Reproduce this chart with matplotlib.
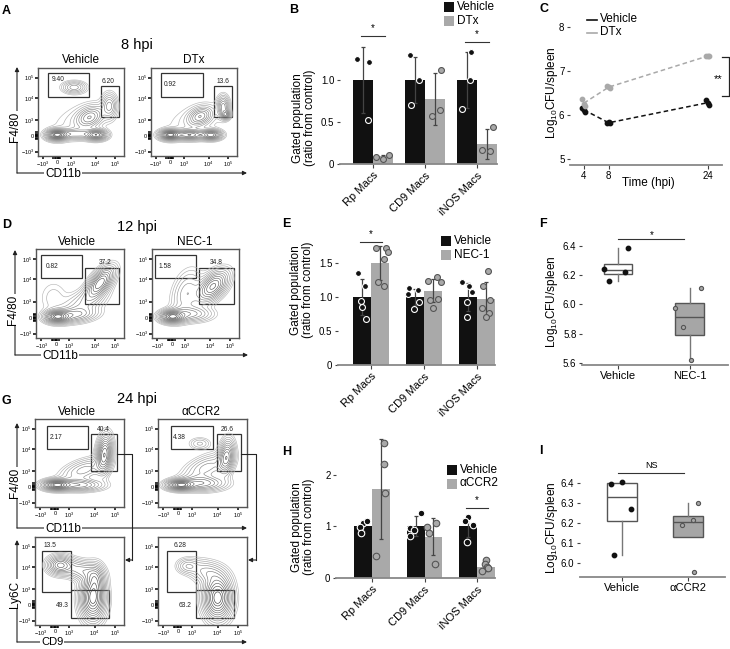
import numpy as np
import matplotlib
matplotlib.use("Agg")
import matplotlib.pyplot as plt
from matplotlib.patches import Rectangle

plt.rcParams["font.family"] = ["Liberation Sans", "DejaVu Sans"]
plt.rcParams["mathtext.fontset"] = "custom"
plt.rcParams["mathtext.rm"] = "Liberation Sans"
plt.rcParams["mathtext.it"] = "Liberation Sans:italic"
plt.rcParams["mathtext.default"] = "regular"

W, H = 730, 649
BLACK = "#111111"
GREY = "#a9a9a9"

# ---------------- bar chart data (ratio from control) ----------------
groups = ["Rp Macs", "CD9 Macs", "iNOS Macs"]

b_veh_mean = [1.0, 1.0, 1.0]
b_veh_sd = [0.39, 0.27, 0.33]
b_dtx_mean = [0.09, 0.77, 0.24]
b_dtx_sd = [0.02, 0.31, 0.18]
b_veh_pts = [[1.25, 1.21, 0.52], [1.30, 1.00, 0.70], [1.33, 1.00, 0.65]]
b_dtx_pts = [[0.08, 0.06, 0.11], [1.12, 0.57, 0.64], [0.44, 0.17, 0.15]]
b_veh_jit = [[-6, 6, 5], [-5, 4, -4], [4, 3, -5]]
b_dtx_jit = [[-7, 0, 6], [6, -3, 5], [6, -5, 3]]
b_sig = [(0, 1.52, "*"), (2, 1.45, "*")]

e_veh_mean = [1.0, 1.0, 1.0]
e_veh_sd = [0.26, 0.12, 0.20]
e_nec_mean = [1.50, 1.09, 0.97]
e_nec_sd = [0.25, 0.17, 0.25]
e_veh_pts = [[1.35, 1.16, 0.94, 0.85, 0.68],
             [1.13, 1.04, 1.10, 0.82, 0.93],
             [1.22, 1.16, 1.07, 0.93, 0.70]]
e_nec_pts = [[1.72, 1.72, 1.66, 1.56, 1.22, 1.16],
             [1.24, 1.30, 1.22, 0.96, 0.97, 0.84],
             [1.38, 1.16, 0.96, 0.84, 0.76, 0.71]]
e_veh_jit = [[-4, 3, -1, 0, 4], [-6, -7, 3, -1, 4], [-6, 1, 4, -1, -1]]
e_nec_jit = [[-4, 6, 8, 4, -2, 4], [-5, 4, 8, -3, 5, 0], [2, -3, 4, -4, 3, 0]]
e_sig = [(0, 1.81, "*")]

h_veh_mean = [1.0, 1.0, 1.0]
h_veh_sd = [0.10, 0.19, 0.20]
h_ccr_mean = [1.72, 0.80, 0.22]
h_ccr_sd = [0.96, 0.36, 0.08]
h_veh_pts = [[1.06, 1.10, 0.99, 0.87], [1.26, 0.97, 0.93, 0.82], [1.18, 1.10, 1.03, 0.70]]
h_ccr_pts = [[2.61, 2.20, 1.64, 0.43], [0.99, 1.06, 0.87, 0.27], [0.35, 0.27, 0.21, 0.14, 0.19]]
h_veh_jit = [[0, 4, -3, -2], [5, -6, -2, -6], [0, -3, 5, -1]]
h_ccr_jit = [[3, 3, 4, -5], [-6, 3, -4, 2], [0, -1, 1, -4, 2]]
h_sig = [(2, 1.35, "*")]

# ---------------- CFU time course (C) ----------------
c_time = [4, 8, 24]
c_veh_pts = [[6.16, 6.07, 6.12], [5.82, 5.82, 5.83], [6.34, 6.23, 6.27]]
c_dtx_pts = [[6.36, 6.20, 6.25], [6.66, 6.61, 6.63], [7.34, 7.35, 7.33]]
c_jit = [-0.25, 0.25, 0.0]

# ---------------- CFU box plots (F, I) ----------------
f_veh = [6.385, 6.243, 6.222, 6.161]
f_nec = [6.114, 5.977, 5.848, 5.623]
f_veh_jit = [0.14, -0.19, 0.10, -0.12]
f_nec_jit = [0.15, -0.21, -0.10, 0.01]

i_veh = [6.395, 6.405, 6.27, 6.04]
i_ccr = [6.30, 6.215, 6.19, 5.955]
i_veh_jit = [-0.17, 0.0, 0.14, -0.12]
i_ccr_jit = [0.15, 0.08, -0.09, 0.09]

# ---------------- flow cytometry plots ----------------
flow_ticklabels = ["$-10^3$", "0", "$10^3$", "$10^4$", "$10^5$"]
FX = [0.06, 0.23, 0.38, 0.67, 0.90]
FY = [0.05, 0.23, 0.41, 0.66, 0.89]

# density blobs: (cx, cy, sx, sy, rho, weight)
a_veh_blobs = [(0.22, 0.24, 0.07, 0.035, 0.0, 1.0), (0.45, 0.25, 0.12, 0.035, 0.0, 0.35),
               (0.68, 0.24, 0.07, 0.035, 0.0, 0.8), (0.60, 0.44, 0.09, 0.07, 0.3, 0.45),
               (0.42, 0.78, 0.08, 0.04, 0.0, 0.3), (0.83, 0.57, 0.05, 0.08, 0.0, 0.35),
               (0.50, 0.40, 0.22, 0.14, 0.4, 0.08)]
a_dtx_blobs = [(0.22, 0.24, 0.07, 0.033, 0.0, 1.0), (0.45, 0.24, 0.10, 0.033, 0.0, 0.7),
               (0.70, 0.24, 0.07, 0.033, 0.0, 0.8), (0.57, 0.45, 0.08, 0.06, 0.3, 0.45),
               (0.84, 0.56, 0.04, 0.07, 0.0, 0.45), (0.87, 0.47, 0.03, 0.03, 0.0, 0.5),
               (0.50, 0.40, 0.22, 0.14, 0.4, 0.07)]
d_veh_blobs = [(0.24, 0.24, 0.08, 0.04, 0.0, 1.0), (0.45, 0.26, 0.14, 0.05, 0.2, 0.4),
               (0.73, 0.62, 0.09, 0.10, 0.6, 0.9), (0.55, 0.40, 0.15, 0.10, 0.5, 0.25),
               (0.20, 0.45, 0.10, 0.12, 0.0, 0.08)]
d_nec_blobs = [(0.23, 0.24, 0.08, 0.04, 0.0, 1.0), (0.70, 0.58, 0.10, 0.10, 0.5, 0.8),
               (0.40, 0.50, 0.10, 0.15, 0.3, 0.25), (0.45, 0.27, 0.14, 0.05, 0.0, 0.35)]
g_veh_blobs = [(0.24, 0.25, 0.09, 0.035, 0.0, 1.0), (0.50, 0.25, 0.15, 0.04, 0.0, 0.5),
               (0.78, 0.60, 0.05, 0.12, 0.2, 0.9), (0.55, 0.42, 0.15, 0.08, 0.5, 0.3)]
g_ccr_blobs = [(0.25, 0.25, 0.09, 0.035, 0.0, 1.0), (0.50, 0.27, 0.15, 0.05, 0.0, 0.5),
               (0.77, 0.57, 0.05, 0.11, 0.2, 0.7), (0.47, 0.72, 0.07, 0.04, 0.0, 0.15),
               (0.55, 0.45, 0.15, 0.09, 0.5, 0.3)]
g2_veh_blobs = [(0.28, 0.68, 0.08, 0.06, 0.0, 0.6), (0.65, 0.30, 0.08, 0.14, 0.0, 1.0),
                (0.52, 0.62, 0.12, 0.07, -0.3, 0.35), (0.68, 0.52, 0.06, 0.10, 0.0, 0.4)]
g2_ccr_blobs = [(0.33, 0.67, 0.07, 0.05, 0.0, 0.2), (0.67, 0.31, 0.09, 0.14, 0.0, 1.0),
                (0.55, 0.60, 0.12, 0.08, -0.3, 0.25)]

# gates (x0, y0, x1, y1) and percentages (text, x, y, ha)
a_veh_gates = [(0.116, 0.67, 0.593, 0.943), (0.733, 0.443, 0.942, 0.795)]
a_veh_pct = [("9.40", 0.16, 0.865, "left"), ("6.20", 0.814, 0.852, "center")]
a_dtx_gates = [(0.116, 0.67, 0.605, 0.943), (0.733, 0.443, 0.942, 0.795)]
a_dtx_pct = [("0.92", 0.15, 0.818, "left"), ("13.6", 0.837, 0.852, "center")]
d_veh_gates = [(0.057, 0.67, 0.52, 0.93), (0.56, 0.38, 0.94, 0.79)]
d_veh_pct = [("0.82", 0.114, 0.798, "left"), ("37.2", 0.784, 0.843, "center")]
d_nec_gates = [(0.034, 0.67, 0.505, 0.93), (0.54, 0.38, 0.94, 0.79)]
d_nec_pct = [("1.58", 0.08, 0.798, "left"), ("34.8", 0.744, 0.843, "center")]
g_veh_gates = [(0.135, 0.66, 0.60, 0.92), (0.63, 0.41, 0.92, 0.83)]
g_veh_pct = [("2.17", 0.169, 0.787, "left"), ("40.4", 0.767, 0.886, "center")]
g_ccr_gates = [(0.146, 0.66, 0.618, 0.92), (0.66, 0.41, 0.93, 0.83)]
g_ccr_pct = [("4.38", 0.17, 0.787, "left"), ("26.6", 0.783, 0.886, "center")]
g2_veh_gates = [(0.08, 0.375, 0.40, 0.84), (0.40, 0.08, 0.83, 0.40)]
g2_veh_pct = [("13.5", 0.169, 0.898, "center"), ("49.3", 0.311, 0.22, "center")]
g2_ccr_gates = [(0.10, 0.375, 0.43, 0.84), (0.43, 0.08, 0.85, 0.40)]
g2_ccr_pct = [("6.28", 0.247, 0.898, "center"), ("63.2", 0.303, 0.22, "center")]

fig = plt.figure(figsize=(W / 100, H / 100), dpi=100)


def add_ax(x0, y0, x1, y1):
    return fig.add_axes([x0 / W, 1 - y1 / H, (x1 - x0) / W, (y1 - y0) / H])


def flow_panel(box, blobs, gates, pct):
    ax = add_ax(*box)
    gx, gy = np.meshgrid(np.linspace(0, 1, 220), np.linspace(0, 1, 220))
    z = np.zeros_like(gx)
    for cx, cy, sx, sy, rho, w in blobs:
        dx = (gx - cx) / sx
        dy = (gy - cy) / sy
        z += w * np.exp(-0.5 * (dx ** 2 - 2 * rho * dx * dy + dy ** 2) / (1 - rho ** 2))
    z /= z.max()
    levels = [0.03, 0.05, 0.08, 0.12, 0.17, 0.23, 0.3, 0.38, 0.47, 0.57, 0.68, 0.8, 0.9]
    cols = [str(v) for v in np.linspace(0.72, 0.25, len(levels))]
    ax.contour(gx, gy, z, levels=levels, colors=cols, linewidths=0.45)
    for x0, y0, x1, y1 in gates:
        ax.add_patch(Rectangle((x0, y0), x1 - x0, y1 - y0, fill=False, ec="#333333", lw=0.9))
    for txt, x, y, ha in pct:
        ax.text(x, y, txt, ha=ha, va="center", fontsize=4.8, color="#222222")
    ax.set_xlim(0, 1)
    ax.set_ylim(0, 1)
    ax.set_xticks(FX)
    ax.set_yticks(FY)
    ax.set_xticklabels(flow_ticklabels, fontsize=4)
    ax.set_yticklabels(flow_ticklabels, fontsize=4)
    ax.set_xticks(np.linspace(0.18, 0.26, 6), minor=True)
    ax.set_yticks(np.linspace(0.19, 0.27, 6), minor=True)
    ax.tick_params(which="both", length=2, width=1.1, color="black", pad=0.8)
    for s in ax.spines.values():
        s.set_color("#555555")
        s.set_linewidth(1.0)
    return ax


def simple_axes(ax, ylim, yticks, ytl):
    for s in ("top", "right", "left"):
        ax.spines[s].set_visible(False)
    ax.spines["bottom"].set_color("#888888")
    ax.spines["bottom"].set_linewidth(1.3)
    ax.set_ylim(*ylim)
    ax.set_yticks(yticks)
    ax.set_yticklabels(ytl, fontsize=7)
    ax.tick_params(axis="y", length=2.5, width=0.8, color="#444444", pad=1.5)
    ax.tick_params(axis="x", length=3, width=0.8, color="#444444", pad=1.5)
    ax.patch.set_alpha(0)


def bar_panel(box, step, xlim, ylim, yticks, ytl, bw, vm, vsd, tm, tsd, vp, tp, vj, tj, sig, ms):
    ax = add_ax(*box)
    x = np.arange(len(groups))
    ax.bar(x - bw / 2, vm, bw, color=BLACK, zorder=1)
    ax.bar(x + bw / 2, tm, bw, color=GREY, zorder=1)
    ax.errorbar(x - bw / 2, vm, yerr=vsd, fmt="none", ecolor="#444444", elinewidth=0.9,
                capsize=1.5, capthick=0.9, zorder=2)
    ax.errorbar(x + bw / 2, tm, yerr=tsd, fmt="none", ecolor="#444444", elinewidth=0.9,
                capsize=1.5, capthick=0.9, zorder=2)
    for i in range(len(groups)):
        ax.scatter(x[i] - bw / 2 + np.array(vj[i]) / step, vp[i], s=ms, c=BLACK,
                   edgecolors="white", linewidths=0.8, zorder=3, clip_on=False)
        ax.scatter(x[i] + bw / 2 + np.array(tj[i]) / step, tp[i], s=ms, c=GREY,
                   edgecolors="#555555", linewidths=0.8, zorder=3, clip_on=False)
    for g, h, mark in sig:
        ax.plot([g - bw / 2 - 0.04, g + bw / 2 + 0.04], [h, h], color="#333333", lw=0.8)
        ax.text(g, h + 0.02 * ylim[1], mark, ha="center", va="bottom", fontsize=7)
    ax.set_xlim(*xlim)
    simple_axes(ax, ylim, yticks, ytl)
    ax.set_xticks(x)
    ax.set_xticklabels(groups, rotation=45, ha="right", rotation_mode="anchor", fontsize=8)
    return ax


def box_panel(box, xlim, ylim, yticks, ytl, veh, trt, vj, tj, names, width):
    ax = add_ax(*box)
    bp = ax.boxplot([veh, trt], positions=[1, 2], widths=width, patch_artist=True,
                    showfliers=False, showcaps=False,
                    boxprops=dict(linewidth=1.0, edgecolor="#555555"),
                    medianprops=dict(color="#555555", linewidth=1.0),
                    whiskerprops=dict(color="#777777", linewidth=1.0))
    bp["boxes"][0].set_facecolor("white")
    bp["boxes"][1].set_facecolor("#a6a6a6")
    ax.scatter(1 + np.array(vj), veh, s=10, c=BLACK, zorder=3)
    ax.scatter(2 + np.array(tj), trt, s=9, c="#a6a6a6", edgecolors="#555555",
               linewidths=0.8, zorder=3)
    ax.set_xlim(*xlim)
    simple_axes(ax, ylim, yticks, ytl)
    ax.set_xticks([1, 2])
    ax.set_xticklabels(names, fontsize=8)
    return ax


# ---------- A, D, G flow plots ----------
flow_panel((38, 68, 124, 156), a_veh_blobs, a_veh_gates, a_veh_pct)
flow_panel((151, 68, 237, 156), a_dtx_blobs, a_dtx_gates, a_dtx_pct)
flow_panel((36, 249, 124, 338), d_veh_blobs, d_veh_gates, d_veh_pct)
flow_panel((152, 249, 239, 338), d_nec_blobs, d_nec_gates, d_nec_pct)
flow_panel((35, 419, 124, 507), g_veh_blobs, g_veh_gates, g_veh_pct)
flow_panel((158, 419, 247, 507), g_ccr_blobs, g_ccr_gates, g_ccr_pct)
flow_panel((35, 537, 124, 625), g2_veh_blobs, g2_veh_gates, g2_veh_pct)
flow_panel((158, 537, 247, 625), g2_ccr_blobs, g2_ccr_gates, g2_ccr_pct)

# ---------- B, E, H bar charts ----------
bar_panel((340, 20, 497, 164), 52, (-0.635, 2.385), (0, 144 / 84), [0, 0.5, 1.0], ["0", "0.5", "1.0"],
          0.385, b_veh_mean, b_veh_sd, b_dtx_mean, b_dtx_sd, b_veh_pts, b_dtx_pts,
          b_veh_jit, b_dtx_jit, b_sig, 18)
bar_panel((338, 232, 495, 365), 53, (-0.623, 2.34), (0, 133 / 68), [0, 0.5, 1.0, 1.5],
          ["0", "0.5", "1.0", "1.5"], 0.335, e_veh_mean, e_veh_sd, e_nec_mean, e_nec_sd,
          e_veh_pts, e_nec_pts, e_veh_jit, e_nec_jit, e_sig, 18)
bar_panel((336, 433, 495, 578), 52.5, (-0.686, 2.343), (0, 145 / 51.7), [0, 1, 2], ["0", "1", "2"],
          0.335, h_veh_mean, h_veh_sd, h_ccr_mean, h_ccr_sd, h_veh_pts, h_ccr_pts,
          h_veh_jit, h_ccr_jit, h_sig, 22)

# ---------- C time course ----------
axc = add_ax(570, 14, 722, 165)
veh_mean = [np.mean(p) for p in c_veh_pts]
dtx_mean = [np.mean(p) for p in c_dtx_pts]
axc.plot(c_time, veh_mean, ls=(0, (3, 2)), color=BLACK, lw=1.1)
axc.plot(c_time, dtx_mean, ls=(0, (3, 2)), color=GREY, lw=1.1)
for t, pv, pd in zip(c_time, c_veh_pts, c_dtx_pts):
    axc.scatter(t + np.array(c_jit), pv, s=10, c=BLACK, zorder=3)
    axc.scatter(t + np.array(c_jit), pd, s=10, c=GREY, zorder=3)
axc.set_xlim(1.75, 26.3)
simple_axes(axc, (4.864, 8.295), [5, 6, 7, 8], ["5", "6", "7", "8"])
axc.set_xticks(c_time)
axc.set_xticklabels([str(t) for t in c_time], fontsize=7)

# ---------- F, I box plots ----------
box_panel((582, 230, 728, 365), (0.5, 2.53), (5.586, 6.509), [5.6, 5.8, 6.0, 6.2, 6.4],
          ["5.6", "5.8", "6.0", "6.2", "6.4"], f_veh, f_nec, f_veh_jit, f_nec_jit,
          ["Vehicle", "NEC-1"], 0.4)
box_panel((580, 460, 725, 577), (0.364, 2.56), (5.93, 6.515), [6.0, 6.1, 6.2, 6.3, 6.4],
          ["6.0", "6.1", "6.2", "6.3", "6.4"], i_veh, i_ccr, i_veh_jit, i_ccr_jit,
          ["Vehicle", "αCCR2"], 0.44)

# ---------- overlay: labels, arrows, legends ----------
ov = fig.add_axes([0, 0, 1, 1])
ov.set_xlim(0, W)
ov.set_ylim(H, 0)
ov.axis("off")

for letter, x, y in [("A", 2, 10.5), ("B", 289, 10), ("C", 540, 9), ("D", 2, 225.5), ("E", 282, 224),
                     ("F", 539, 224), ("G", 2, 401.5), ("H", 282, 452), ("I", 539, 450.5)]:
    ov.text(x, y, letter, fontsize=9, fontweight="bold", ha="left", va="center")

for txt, x, y, fs in [("8 hpi", 137, 45, 10.5), ("Vehicle", 81, 60, 8.5), ("DTx", 194, 60, 8.5),
                      ("12 hpi", 137, 227, 10.5), ("Vehicle", 77, 242, 8.5), ("NEC-1", 195, 242, 8.5),
                      ("24 hpi", 137, 399, 10.5), ("Vehicle", 77, 412, 8.5), ("αCCR2", 201, 412, 8.5)]:
    ov.text(x, y, txt, fontsize=fs, ha="center", va="center")


def axis_arrows(x, ytop, ybot, xright, ylab, ylab_y, xlab, xlab_x, xfs=8.5, dy=1):
    ap = dict(arrowstyle="-|>", color="#222222", lw=0.8, mutation_scale=6, shrinkA=0, shrinkB=0)
    ov.annotate("", xy=(x, ytop), xytext=(x, ybot), arrowprops=ap)
    ov.annotate("", xy=(xright, ybot), xytext=(x, ybot), arrowprops=ap)
    ov.text(x - 2, ylab_y, ylab, rotation=90, fontsize=8.5, ha="center", va="center",
            bbox=dict(fc="white", ec="none", pad=0.8))
    ov.text(xlab_x, ybot + dy, xlab, fontsize=xfs, ha="center", va="center",
            bbox=dict(fc="white", ec="none", pad=0.8))


axis_arrows(17, 67, 173, 247, "F4/80", 127, "CD11b", 63)
axis_arrows(15, 250, 355, 248, "F4/80", 310, "CD11b", 60)
axis_arrows(17, 423, 528, 247, "F4/80", 483, "CD11b", 63)
axis_arrows(17, 540, 642, 247, "Ly6C", 594, "CD9", 52, xfs=8, dy=0)

for x_from, x_turn, x_to in [(117, 132, 125), (241, 256, 248)]:
    ov.plot([x_from, x_turn, x_turn], [454, 454, 560], color="#222222", lw=0.8)
    ov.annotate("", xy=(x_to, 560), xytext=(x_turn, 560),
                arrowprops=dict(arrowstyle="-|>", color="#222222", lw=0.8, mutation_scale=6,
                                shrinkA=0, shrinkB=0))

# bar legends
for x, y, labels in [(444, 2, ["Vehicle", "DTx"]), (441, 236, ["Vehicle", "NEC-1"]),
                     (447, 465, ["Vehicle", "αCCR2"])]:
    for k, (lab, col) in enumerate(zip(labels, [BLACK, GREY])):
        yy = y + k * 13.5
        ov.add_patch(Rectangle((x, yy), 10, 10, fc=col, ec="none"))
        ov.text(x + 13, yy + 5, lab, fontsize=8.5, ha="left", va="center")

# C legend and bracket
for k, (lab, col) in enumerate(zip(["Vehicle", "DTx"], [BLACK, GREY])):
    yy = 20 + k * 12.5
    ov.plot([587, 597], [yy, yy], color=col, lw=1.2)
    ov.text(600, yy - 0.5, lab, fontsize=8.5, ha="left", va="center")
ov.plot([722, 729, 729, 722], [57, 57, 96, 96], color="#222222", lw=0.9)
ov.text(718, 79, "**", fontsize=8, ha="center", va="center")

# F / I significance
ov.plot([618, 684], [239, 239], color="#333333", lw=0.8)
ov.text(652, 235, "*", fontsize=7, ha="center", va="center")
ov.plot([618, 684], [473, 473], color="#333333", lw=0.8)
ov.text(652, 466, "NS", fontsize=6.5, ha="center", va="center")

# axis titles
for x, y, txt in [(304, 118, "Gated population\n(ratio from control)"),
                  (302, 290, "Gated population\n(ratio from control)"),
                  (303, 527, "Gated population\n(ratio from control)")]:
    ov.text(x, y, txt, rotation=90, fontsize=8.5, ha="center", va="center", linespacing=1.0)
for x, y in [(552, 93), (552, 302), (552, 528)]:
    ov.text(x, y, "Log$_{10}$CFU/spleen", rotation=90, fontsize=8.5, ha="center", va="center")
ov.text(648, 183, "Time (hpi)", fontsize=8.5, ha="center", va="center")

fig.savefig("out.png", dpi=100)
